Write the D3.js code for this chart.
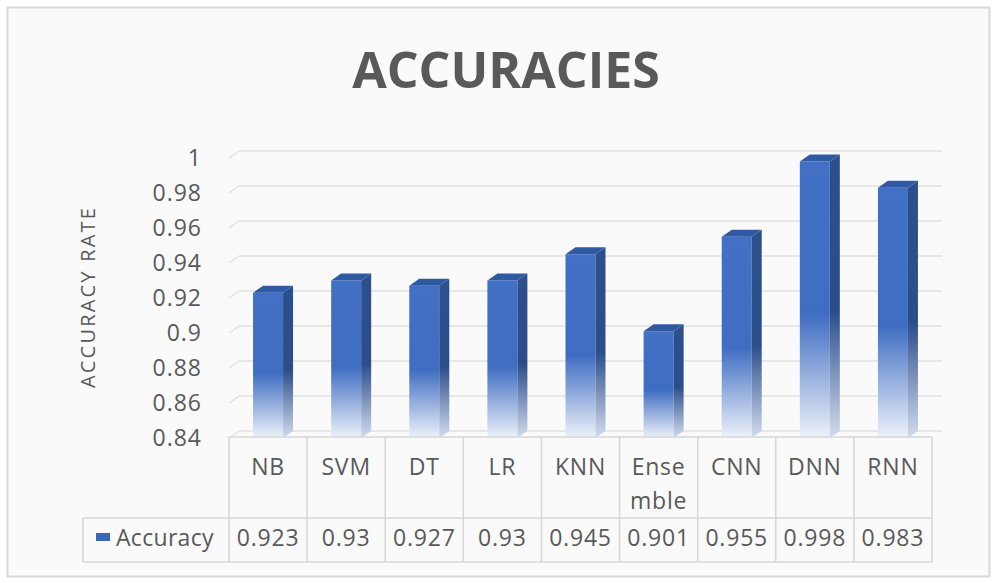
<!DOCTYPE html>
<html>
<head>
<meta charset="utf-8">
<script src="https://cdn.jsdelivr.net/npm/d3@7"></script>
<style>
  html, body { margin: 0; padding: 0; background: #ffffff; }
  svg { display: block; }
  text { font-family: "Open Sans", "Noto Sans", sans-serif; fill: #595959; }
</style>
</head>
<body>
<div id="chart"></div>
<script>
// values
const categories = ["NB", "SVM", "DT", "LR", "KNN", "Ensemble", "CNN", "DNN", "RNN"];
const accuracy = [0.923, 0.93, 0.927, 0.93, 0.945, 0.901, 0.955, 0.998, 0.983];
const yTicks = [0.84, 0.86, 0.88, 0.9, 0.92, 0.94, 0.96, 0.98, 1];
const seriesName = "Accuracy";
const chartTitle = "ACCURACIES";
const yTitle = "ACCURACY RATE";

const width = 995, height = 583;
const depthX = 10, depthY = -7;   // 3d offset of the back wall

const svg = d3.select("#chart")
  .append("svg")
  .attr("width", width)
  .attr("height", height);

// frame
svg.append("rect")
  .attr("x", 7.5).attr("y", 7.5)
  .attr("width", 982).attr("height", 569)
  .attr("fill", "#fafafa")
  .attr("stroke", "#d9d9d9")
  .attr("stroke-width", 2);

const x = d3.scaleBand()
  .domain(categories)
  .range([229, 932]);

const y = d3.scaleLinear()
  .domain([0.84, 1])
  .range([438, 158]);

// gradients for the faded 3d bars
const defs = svg.append("defs");
function makeGrad(id, top, mid, bottom) {
  const g = defs.append("linearGradient")
    .attr("id", id)
    .attr("x1", 0).attr("y1", 0).attr("x2", 0).attr("y2", 1);
  g.append("stop").attr("offset", "0").attr("stop-color", top);
  g.append("stop").attr("offset", "0.55").attr("stop-color", mid);
  g.append("stop").attr("offset", "1").attr("stop-color", bottom);
}
makeGrad("frontGrad", "#4170c4", "#3f6dc2", "#eef2fa");
makeGrad("sideGrad", "#2c4f8e", "#2b4d8b", "#d3dcee");

// back wall gridlines + side wall diagonals
const grid = svg.append("g");
grid.selectAll("line.grid")
  .data(yTicks)
  .enter()
  .append("line")
  .attr("x1", x.range()[0] + depthX)
  .attr("x2", x.range()[1] + depthX)
  .attr("y1", d => y(d) + depthY)
  .attr("y2", d => y(d) + depthY)
  .attr("stroke", "#e1e1e1")
  .attr("stroke-width", 1.5);

grid.selectAll("line.diag")
  .data(yTicks)
  .enter()
  .append("line")
  .attr("x1", x.range()[0])
  .attr("x2", x.range()[0] + depthX)
  .attr("y1", d => y(d))
  .attr("y2", d => y(d) + depthY)
  .attr("stroke", "#e1e1e1")
  .attr("stroke-width", 1.5);

// y tick labels
svg.append("g")
  .selectAll("text")
  .data(yTicks)
  .enter()
  .append("text")
  .attr("x", 202)
  .attr("y", d => y(d))
  .attr("dy", "0.36em")
  .attr("text-anchor", "end")
  .style("font-size", "23px")
  .style("letter-spacing", "1px")
  .text(d => String(+d.toFixed(2)));

// y axis title
svg.append("text")
  .attr("transform", "translate(95,297) rotate(-90)")
  .attr("text-anchor", "middle")
  .style("font-size", "20px")
  .style("letter-spacing", "2.2px")
  .text(yTitle);

// chart title
svg.append("text")
  .attr("x", 506)
  .attr("y", 88)
  .attr("text-anchor", "middle")
  .style("font-size", "50px")
  .style("font-weight", "bold")
  .text(chartTitle);

// 3d bars
const barW = 30;
const base = y.range()[0];
const bars = svg.append("g")
  .selectAll("g")
  .data(categories.map((c, i) => ({ cat: c, val: accuracy[i] })))
  .enter()
  .append("g");

bars.append("rect")
  .attr("x", d => x(d.cat) + x.bandwidth() / 2 - barW / 2)
  .attr("y", d => y(d.val))
  .attr("width", barW)
  .attr("height", d => base - y(d.val))
  .attr("fill", "url(#frontGrad)");

bars.append("path")
  .attr("d", d => {
    const x1 = x(d.cat) + x.bandwidth() / 2 + barW / 2;
    const t = y(d.val);
    return `M${x1},${t}L${x1 + depthX},${t + depthY}L${x1 + depthX},${base + depthY}L${x1},${base}Z`;
  })
  .attr("fill", "url(#sideGrad)");

bars.append("path")
  .attr("d", d => {
    const x0 = x(d.cat) + x.bandwidth() / 2 - barW / 2;
    const t = y(d.val);
    return `M${x0},${t}L${x0 + barW},${t}L${x0 + barW + depthX},${t + depthY}L${x0 + depthX},${t + depthY}Z`;
  })
  .attr("fill", "#2f5aa3");

// data table under the plot
const lineColor = "#d6d6d6";
const table = svg.append("g")
  .attr("stroke", lineColor)
  .attr("stroke-width", 1.5);
const tTop = 437, tMid = 518, tBot = 562, legendLeft = 83;

table.append("line")
  .attr("x1", x.range()[0]).attr("x2", x.range()[1])
  .attr("y1", tTop).attr("y2", tTop);
table.append("line")
  .attr("x1", legendLeft).attr("x2", x.range()[1])
  .attr("y1", tMid).attr("y2", tMid);
table.append("line")
  .attr("x1", legendLeft).attr("x2", x.range()[1])
  .attr("y1", tBot).attr("y2", tBot);
table.append("line")
  .attr("x1", legendLeft).attr("x2", legendLeft)
  .attr("y1", tMid).attr("y2", tBot);
table.selectAll("line.col")
  .data(categories.map(c => x(c)).concat([x.range()[1]]))
  .enter()
  .append("line")
  .attr("x1", d => d).attr("x2", d => d)
  .attr("y1", tTop).attr("y2", tBot);

// category labels, wrapped when wider than the cell
const catText = svg.append("g")
  .selectAll("text")
  .data(categories)
  .enter()
  .append("text")
  .attr("x", d => x(d) + x.bandwidth() / 2)
  .attr("y", 475)
  .attr("text-anchor", "middle")
  .style("font-size", "23px")
  .style("letter-spacing", "0.8px");

catText.each(function (d) {
  const el = d3.select(this);
  const maxW = x.bandwidth() - 12;
  const lines = [];
  let cur = "";
  for (const ch of d) {
    el.text(cur + ch);
    if (this.getComputedTextLength() > maxW && cur.length) {
      lines.push(cur);
      cur = ch;
    } else {
      cur += ch;
    }
  }
  lines.push(cur);
  el.text(null);
  lines.forEach((l, i) => {
    el.append("tspan")
      .attr("x", x(d) + x.bandwidth() / 2)
      .attr("dy", i === 0 ? 0 : 34)
      .text(l);
  });
});

// value row
svg.append("g")
  .selectAll("text")
  .data(accuracy)
  .enter()
  .append("text")
  .attr("x", (d, i) => x(categories[i]) + x.bandwidth() / 2)
  .attr("y", 546)
  .attr("text-anchor", "middle")
  .style("font-size", "23px")
  .style("letter-spacing", "0.8px")
  .text(d => String(d));

// legend key in the table
svg.append("rect")
  .attr("x", 96).attr("y", 533)
  .attr("width", 14).attr("height", 8)
  .attr("fill", "#3c67b8");
svg.append("text")
  .attr("x", 116)
  .attr("y", 546)
  .style("font-size", "23px")
  .style("letter-spacing", "0.3px")
  .text(seriesName);
</script>
</body>
</html>
